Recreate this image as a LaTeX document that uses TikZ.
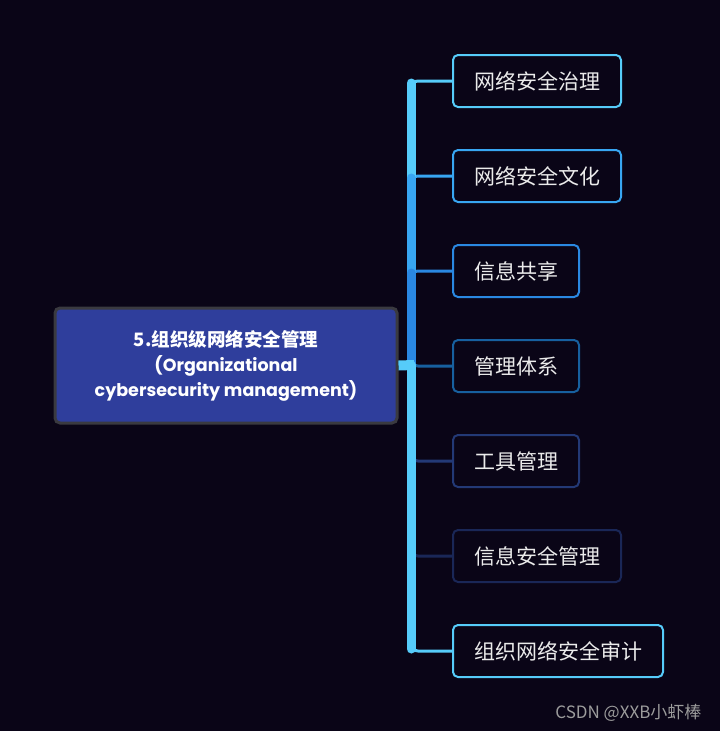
\documentclass[tikz,border=0pt]{standalone}
\usepackage{fontspec}
\setmainfont{Noto Sans CJK SC}
\newfontfamily\popfont{Poppins}
\usepackage{xcolor}
\definecolor{mapbg}{HTML}{0A0517}
\definecolor{rootfill}{HTML}{2F3E9C}
\definecolor{rootline}{HTML}{3A3A40}
\definecolor{skyA}{HTML}{56CCFA}
\definecolor{skyB}{HTML}{38A6F2}
\definecolor{skyC}{HTML}{2A88E2}
\definecolor{navyA}{HTML}{17609F}
\definecolor{navyB}{HTML}{233976}
\definecolor{navyC}{HTML}{1A2757}
\definecolor{creditgray}{HTML}{9C9C9C}
\usepackage{tikz}
\usetikzlibrary{positioning, calc}

\begin{document}
\begin{tikzpicture}[x=1pt, y=-1pt,
  topic/.style={rectangle, rounded corners=5pt, draw, line width=2pt, fill=mapbg,
    minimum height=52pt, inner xsep=21pt, inner ysep=0pt, text=white!92!black,
    font=\fontsize{21}{25}\selectfont},
  root/.style={rectangle, rounded corners=5pt, draw=rootline, line width=3pt, fill=rootfill,
    minimum width=342pt, minimum height=115pt, align=center, text=white,
    font=\fontsize{18.5}{25}\selectfont\bfseries},
  twig/.style={line width=3pt, rounded corners=7pt},
  trunk/.style={line width=9pt, line cap=round}
]
\fill[mapbg] (0,0) rectangle (720,731);
\useasboundingbox (0,0) rectangle (720,731);

\node[root] (root) at (226,365.5)
  {5.组织级网络安全管理\\{\popfont\fontsize{17.5}{25}\selectfont\bfseries (Organizational}\\
   {\popfont\fontsize{17.5}{25}\selectfont\bfseries cybersecurity management)}};
\coordinate (hub) at (411,365);

\node[topic, draw=skyA, anchor=west] (c1) at (452,81) {网络安全治理};
\node[topic, draw=skyB, below=41pt of c1.south west, anchor=north west] (c2) {网络安全文化};
\node[topic, draw=skyC, below=41pt of c2.south west, anchor=north west] (c3) {信息共享};
\node[topic, draw=navyA, below=41pt of c3.south west, anchor=north west] (c4) {管理体系};
\node[topic, draw=navyB, below=41pt of c4.south west, anchor=north west] (c5) {工具管理};
\node[topic, draw=navyC, below=41pt of c5.south west, anchor=north west] (c6) {信息安全管理};
\node[topic, draw=skyA, below=41pt of c6.south west, anchor=north west] (c7) {组织网络安全审计};

\draw[twig, skyA] (hub) |- (c1.west);
\draw[twig, skyB] (hub) |- (c2.west);
\draw[twig, skyC] (hub) |- (c3.west);
\draw[twig, navyA] (hub) |- (c4.west);
\draw[twig, navyB] (hub) |- (c5.west);
\draw[twig, navyC] (hub) |- (c6.west);
\draw[twig, skyA] (hub) |- (c7.west);

\draw[trunk, skyA] (hub) -- ($(hub |- c1.west)+(0,2)$);
\draw[trunk, skyB] (hub) -- ($(hub |- c2.west)+(0,2)$);
\draw[trunk, skyC] (hub) -- ($(hub |- c3.west)+(0,2)$);
\draw[trunk, skyA] (hub) -- ($(hub |- c7.west)+(0,-2)$);
\draw[line width=10pt, skyA] (root.east) -- ($(hub)+(3,0)$);

\node[anchor=base east, text=creditgray, font=\fontsize{17}{20}\selectfont] (credit) at (705,718)
  {CSDN @XXB小虾棒};
\end{tikzpicture}
\end{document}
